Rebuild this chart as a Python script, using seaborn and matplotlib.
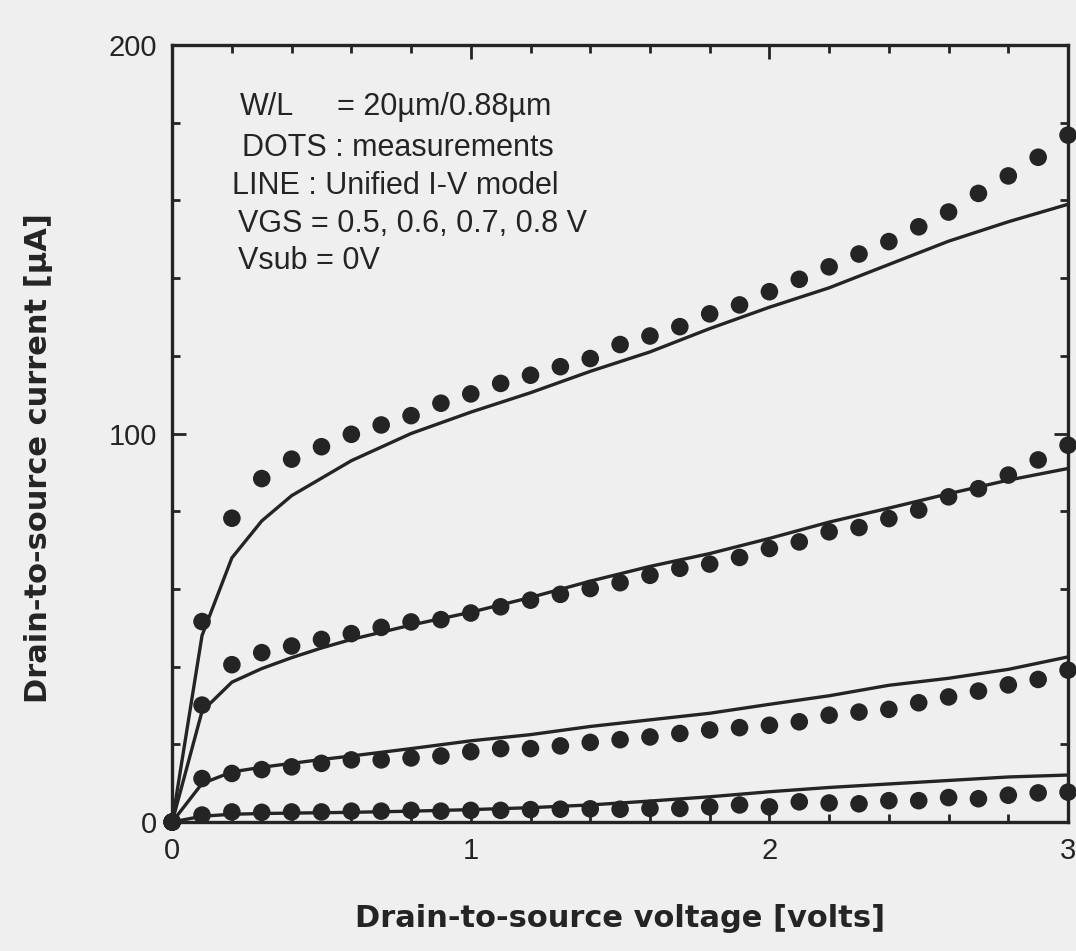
import numpy as np
import pandas as pd
import matplotlib
matplotlib.use("Agg")
import matplotlib.pyplot as plt
import seaborn as sns
from matplotlib import font_manager
from matplotlib.ticker import MultipleLocator

# ---------------- data ----------------
vgs_levels = ["0.8 V", "0.7 V", "0.6 V", "0.5 V"]

# measurement dots (Vds = 0.0 ... 3.0 step 0.1)
vds_meas = [round(0.1 * i, 1) for i in range(31)]
meas_08 = [0, 51.6, 78.2, 88.4, 93.4, 96.6, 99.8, 102.2, 104.6, 107.8, 110.2,
           112.9, 115.0, 117.2, 119.3, 122.9, 125.1, 127.5, 130.8, 133.1, 136.5,
           139.7, 142.9, 146.2, 149.4, 153.2, 157.0, 161.8, 166.3, 171.1, 176.8]
meas_07 = [0, 30.1, 40.5, 43.6, 45.3, 47.0, 48.5, 50.1, 51.5, 52.1, 53.8,
           55.4, 57.1, 58.6, 60.1, 61.6, 63.5, 65.3, 66.4, 68.1, 70.4,
           72.1, 74.7, 75.8, 78.1, 80.3, 83.7, 85.8, 89.3, 93.2, 97.0]
meas_06 = [0, 11.2, 12.5, 13.5, 14.2, 15.1, 16.0, 16.0, 16.5, 17.0, 18.1,
           18.9, 18.9, 19.6, 20.5, 21.2, 21.9, 22.8, 23.7, 24.3, 24.9,
           25.8, 27.5, 28.3, 29.0, 30.7, 32.2, 33.7, 35.3, 36.7, 39.1]
meas_05 = [0, 1.8, 2.6, 2.5, 2.6, 2.6, 2.8, 2.8, 3.0, 2.8, 3.0,
           3.0, 3.2, 3.3, 3.4, 3.3, 3.5, 3.5, 3.9, 4.4, 3.9,
           5.2, 4.9, 4.7, 5.5, 5.5, 6.3, 6.0, 6.9, 7.5, 7.7]

# unified I-V model lines
vds_model = [0, 0.1, 0.2, 0.3, 0.4, 0.5, 0.6, 0.8, 1.0, 1.2, 1.4, 1.6, 1.8,
             2.0, 2.2, 2.4, 2.6, 2.8, 3.0]
model_08 = [0, 48.0, 68.0, 77.5, 84.0, 88.5, 93.0, 100.0, 105.5, 110.5, 116.0,
            121.0, 127.0, 132.5, 137.5, 143.5, 149.5, 154.5, 159.0]
model_07 = [0, 28.5, 36.0, 39.5, 42.3, 44.8, 47.0, 50.7, 54.0, 57.8, 62.0,
            65.8, 69.1, 73.0, 77.2, 80.8, 84.5, 88.0, 91.0]
model_06 = [0, 9.9, 12.9, 14.1, 15.1, 16.1, 17.0, 18.9, 20.9, 22.5, 24.6,
            26.3, 28.0, 30.3, 32.5, 35.2, 37.0, 39.3, 42.5]
model_05 = [0, 1.5, 2.0, 2.2, 2.3, 2.4, 2.5, 2.8, 3.2, 3.7, 4.4,
            5.4, 6.5, 7.8, 8.9, 9.8, 10.7, 11.6, 12.1]

x_ticks = [0, 1, 2, 3]
y_ticks = [0, 100, 200]
x_label = "Drain-to-source voltage [volts]"
y_label = "Drain-to-source current [\u00b5A]"
notes = ["DOTS : measurements",
         "LINE : Unified I-V model",
         "VGS = 0.5, 0.6, 0.7, 0.8 V",
         "Vsub = 0V"]

meas_df = pd.concat([
    pd.DataFrame({"Vds": vds_meas, "Ids": v, "VGS": g})
    for v, g in zip([meas_08, meas_07, meas_06, meas_05], vgs_levels)
])
model_df = pd.concat([
    pd.DataFrame({"Vds": vds_model, "Ids": v, "VGS": g})
    for v, g in zip([model_08, model_07, model_06, model_05], vgs_levels)
])

# ---------------- style ----------------
sns.set_theme(style="ticks")
bg = "#efefef"
ink = "#242424"
names = {f.name for f in font_manager.fontManager.ttflist}
base_font = "Liberation Sans" if "Liberation Sans" in names else "DejaVu Sans"
plt.rcParams["font.family"] = [base_font, "DejaVu Sans"]

fig = plt.figure(figsize=(10.76, 9.51), dpi=100, facecolor=bg)
ax = fig.add_axes([0.16, 0.1356, 0.8326, 0.8171])
ax.set_facecolor(bg)

pal = {g: ink for g in vgs_levels}
sns.lineplot(data=model_df, x="Vds", y="Ids", hue="VGS", palette=pal,
             estimator=None, sort=False, legend=False, linewidth=2.4, ax=ax)
sns.scatterplot(data=meas_df, x="Vds", y="Ids", hue="VGS", palette=pal,
                s=160, edgecolor="none", legend=False, ax=ax, clip_on=False,
                zorder=3)

ax.set_xlim(0, 3)
ax.set_ylim(0, 200)
ax.set_xticks(x_ticks)
ax.set_yticks(y_ticks)
ax.xaxis.set_minor_locator(MultipleLocator(0.2))
ax.yaxis.set_minor_locator(MultipleLocator(20))
ax.tick_params(which="both", direction="in", top=True, right=True,
               color=ink, width=2.0)
ax.tick_params(which="major", length=10, labelsize=21, labelcolor=ink, pad=11)
ax.tick_params(which="minor", length=6)
for sp in ax.spines.values():
    sp.set_visible(True)
    sp.set_linewidth(2.4)
    sp.set_color(ink)

label_font = ["DejaVu Sans"]
ax.set_xlabel(x_label, fontsize=22, fontweight="bold", color=ink,
              family=label_font, labelpad=28)
ax.set_ylabel(y_label, fontsize=22, fontweight="bold", color=ink,
              family=label_font)
ax.yaxis.set_label_coords(-0.133, 0.468)

note_fs = 22
ax.text(0.076, 0.920, "W/L", transform=ax.transAxes, fontsize=note_fs,
        color=ink, va="center", ha="left")
ax.text(0.184, 0.920, "= 20\u00b5m/0.88\u00b5m", transform=ax.transAxes,
        fontsize=note_fs, color=ink, va="center", ha="left")
for txt, yy, xx in zip(notes, [0.868, 0.819, 0.770, 0.722],
                       [0.078, 0.067, 0.074, 0.074]):
    ax.text(xx, yy, txt, transform=ax.transAxes, fontsize=note_fs, color=ink,
            va="center", ha="left")

fig.savefig("out.png", dpi=100, facecolor=bg)
